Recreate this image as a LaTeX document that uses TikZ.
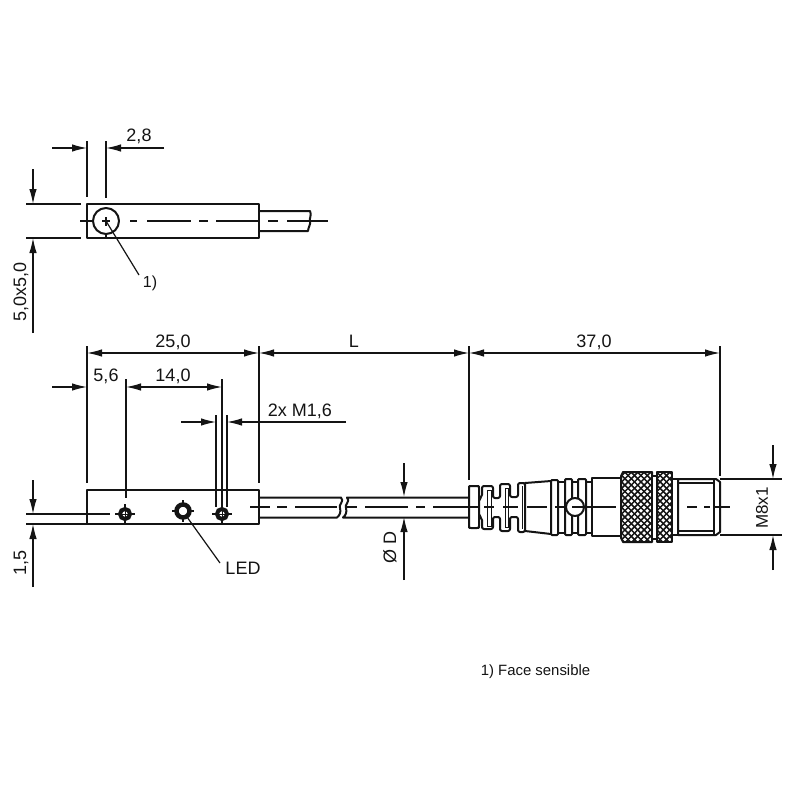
\documentclass[tikz,border=0pt]{standalone}
\usepackage{fontspec}
\setmainfont{Liberation Sans}
\usetikzlibrary{arrows.meta}
\definecolor{ink}{gray}{0.08}
\tikzset{
  part/.style={draw=ink,line width=2pt,line join=round},
  fine/.style={draw=ink,line width=1.2pt},
  hair/.style={draw=ink,line width=.9pt},
  ext/.style={draw=ink,line width=1.4pt},
  knurl/.style={draw=ink,line width=1.5pt},
  tipped/.style={draw=ink,line width=1.3pt,{Latex[length=15pt,width=7.5pt]}-{Latex[length=15pt,width=7.5pt]}},
  dimline/.style={draw=ink,line width=1.3pt,-{Latex[length=15pt,width=7.5pt]}},
  lbl/.style={text=ink,font=\fontsize{18}{20}\selectfont,inner sep=0pt},
  note/.style={text=ink,font=\fontsize{14.9}{17}\selectfont,inner sep=0pt},
}
\begin{document}
\begin{tikzpicture}[x=1pt,y=-1pt]
\useasboundingbox (0,0) rectangle (800,800);
\fill[white] (0,0) rectangle (800,800);

% ===== Top view =====
\coordinate (lensC) at (106,221);
\coordinate (lensLead) at (139,275);
\foreach \a/\b in {259/259,268/278,287/328}
  \draw[fine] (\a,221) -- (\b,221);
\draw[part] (259,211) -- (310,211) .. controls (312,215) and (309,219) .. (310,221) .. controls (311,224) and (308,228) .. (308,231) -- (259,231);
\draw[part] (87,204) rectangle (259,238);
\foreach \a/\b in {80/93,102/110,130/137,147/191,199/208,216/259}
  \draw[fine] (\a,221) -- (\b,221);
\draw[part] (lensC) circle (13);
\draw[ext] (106,141) -- (106,198);
\draw[fine] (106,217) -- (106,226);
\draw[fine] (106,235) -- (106,238);
\draw[fine] (lensC) -- (lensLead);
\node[lbl] (oneA) at (150,283) {\fontsize{16}{18}\selectfont 1)};

\draw[ext] (87,141) -- (87,197);
\coordinate (a1) at (52,148); \coordinate (a2) at (87,148);
\coordinate (a3) at (164,148); \coordinate (a4) at (106,148);
\draw[dimline] (a1) -- (a2);
\draw[dimline] (a3) -- (a4);
\node[lbl] (d28) at (139,136) {2,8};

\draw[ext] (26,204) -- (81,204);
\draw[ext] (26,238) -- (81,238);
\coordinate (b1) at (33,169); \coordinate (b2) at (33,204);
\coordinate (b3) at (33,333); \coordinate (b4) at (33,238);
\draw[dimline] (b1) -- (b2);
\draw[dimline] (b3) -- (b4);
\node[lbl,rotate=90] (d50) at (21,292) {5,0x5,0};

% ===== Side view: sensor =====
\foreach \a/\b in {250/270,277/287,295/337,347/357,365/408,416/425,433/478}
  \draw[fine] (\a,507) -- (\b,507);
\draw[part] (259,497.5) -- (341,497.5) .. controls (345,501) and (338,505) .. (340,508) .. controls (341,512) and (340,515) .. (337,517.5) -- (259,517.5);
\draw[part] (469,497.5) -- (347,497.5) .. controls (351,501) and (344,505) .. (346,508) .. controls (347,512) and (346,515) .. (343,517.5) -- (469,517.5);
\draw[part] (87,490) rectangle (259,524);
\draw[fine] (250,507) -- (259,507);

\coordinate (h1) at (125,514);
\coordinate (led) at (183,511);
\coordinate (h2) at (222,514);
\coordinate (ledLead) at (220,563);
\foreach \c in {h1,h2}{
  \draw[fine] ([xshift=-10pt]\c) -- ([xshift=10pt]\c);
  \draw[fine] ([yshift=-10pt]\c) -- ([yshift=10pt]\c);
  \draw[draw=ink,line width=4pt,fill=white] (\c) circle (5);
  \draw[draw=ink,line width=.6pt] ([xshift=-3pt]\c) -- ([xshift=3pt]\c);
  \draw[draw=ink,line width=.6pt] ([yshift=-3pt]\c) -- ([yshift=3pt]\c);
}
\draw[fine] ([xshift=-11pt]led) -- ([xshift=11pt]led);
\draw[fine] ([yshift=-11pt]led) -- ([yshift=11pt]led);
\draw[draw=ink,line width=4.5pt,fill=white] (led) circle (6.5);
\draw[fine] (187,517) -- (ledLead);
\node[lbl] (ledT) at (243,568) {LED};

% Extension lines, side view
\draw[ext] (87,346) -- (87,483);
\draw[ext] (259,346) -- (259,483);
\draw[ext] (469,346) -- (469,480);
\draw[ext] (720,346) -- (720,476);
\draw[fine] (126,379) -- (126,498);
\draw[fine] (222,379) -- (222,510);
\draw[ext] (216,415) -- (216,507);
\draw[ext] (227,415) -- (227,507);
\draw[ext] (26,514) -- (110,514);
\draw[ext] (26,524) -- (87,524);

% Dimensions
\coordinate (l0) at (87,353); \coordinate (l1) at (259,353);
\coordinate (l2) at (469,353); \coordinate (l3) at (720,353);
\draw[tipped] (l0) -- (l1);
\draw[tipped] (l1) -- (l2);
\draw[tipped] (l2) -- (l3);
\node[lbl] (d25) at (173,342) {25,0};
\node[lbl] (dL) at (354,341) {L};
\node[lbl] (d37) at (594,342) {37,0};

\coordinate (m0) at (52,387); \coordinate (m1) at (87,387);
\coordinate (m2) at (126,387); \coordinate (m3) at (222,387);
\draw[dimline] (m0) -- (m1);
\draw[tipped] (m2) -- (m3);
\node[lbl] (d56) at (106,376) {5,6};
\node[lbl] (d14) at (173,376) {14,0};

\coordinate (n0) at (181,422); \coordinate (n1) at (216,422);
\coordinate (n2) at (346,422); \coordinate (n3) at (227,422);
\draw[dimline] (n0) -- (n1);
\draw[dimline] (n2) -- (n3);
\node[lbl] (dM) at (300,411) {2x M1,6};

\coordinate (p1) at (33,480); \coordinate (p2) at (33,514);
\coordinate (p3) at (33,587); \coordinate (p4) at (33,524);
\draw[dimline] (p1) -- (p2);
\draw[dimline] (p3) -- (p4);
\node[lbl,rotate=90] (d15) at (21,563) {1,5};

\coordinate (q1) at (404,463); \coordinate (q2) at (404,497);
\coordinate (q3) at (404,580); \coordinate (q4) at (404,517);
\draw[dimline] (q1) -- (q2);
\draw[dimline] (q3) -- (q4);
\node[lbl,rotate=90] (dD) at (390,547) {Ø D};

% ===== Connector =====
\draw[part,fill=white] (469,488) .. controls (469,486) .. (471,486) -- (477,486) .. controls (479,486) .. (479,488) -- (479,526) .. controls (479,528) .. (477,528) -- (471,528) .. controls (469,528) .. (469,526) -- cycle;
% boot ribs
\draw[part,fill=white,rounded corners=2pt]
  (479,499) -- (482,497) -- (482,486) -- (493,486) -- (493,498) -- (500,498) -- (500,484) -- (510,484) -- (510,497) -- (518,497) -- (518,483) -- (525,483)
  -- (525,532) -- (518,532) -- (518,517) -- (510,517) -- (510,531) -- (500,531) -- (500,517) -- (493,517) -- (493,529) -- (482,529) -- (482,518) -- (479,516) -- cycle;
\draw[hair] (487,490) rectangle (491,526);
\draw[hair] (505,488) rectangle (508,527);
\draw[hair] (522,486) -- (522,529);
\draw[hair] (524,484) -- (524,531);
% cone
\draw[part,fill=white] (525,483) -- (551,481) -- (551,534) -- (525,531) -- cycle;
% bands
\draw[part,fill=white] (551,482) rectangle (592,533);
\draw[part,fill=white,rounded corners=1pt] (551,480) rectangle (558,535);
\draw[part,fill=white,rounded corners=1pt] (565,479) rectangle (572,535);
\draw[part,fill=white,rounded corners=1pt] (578,479) rectangle (586,535);
\draw[part,fill=white] (592,478) rectangle (621,536);
% centre line through connector
\foreach \a/\b in {469/478,484/494,503/518,527/547,555/565,572/616}
  \draw[fine] (\a,507) -- (\b,507);
\coordinate (peg) at (575,507);
\draw[part,fill=white] (peg) circle (9);
\draw[fine] (572,507) -- (584,507);
% knurled nut 1
\begin{scope}
  \path[clip] (621,476) -- (623,472) -- (652,472) -- (652,542) -- (623,542) -- (621,538) -- cycle;
  \fill[white] (615,465) rectangle (680,550);
  \foreach \k in {-4,...,40}{
    \draw[knurl] (\k*6.4+560,465) -- (\k*6.4+645,550);
    \draw[knurl] (\k*6.4+560,550) -- (\k*6.4+645,465);
  }
\end{scope}
\draw[part] (621,476) -- (623,472) -- (652,472) -- (652,542) -- (623,542) -- (621,538) -- cycle;
\draw[part,fill=white] (652,476) rectangle (657,539);
% knurled nut 2
\begin{scope}
  \path[clip] (657,472) rectangle (672,542);
  \fill[white] (650,465) rectangle (680,550);
  \foreach \k in {-4,...,40}{
    \draw[knurl] (\k*6.4+560,465) -- (\k*6.4+645,550);
    \draw[knurl] (\k*6.4+560,550) -- (\k*6.4+645,465);
  }
\end{scope}
\draw[part] (657,472) rectangle (672,542);
\draw[part,fill=white] (672,479) rectangle (678,535);
% threaded end
\draw[part] (678,479) -- (716,479) -- (720,482) -- (720,532) -- (716,535) -- (678,535) -- cycle;
\draw[draw=ink,line width=2.6pt] (678,479) -- (678,535);
\draw[fine] (678,483) -- (714,483) (678,531) -- (714,531);
\draw[draw=ink,line width=2.6pt] (714,480) -- (714,534);
\foreach \a/\b in {687/697,704/710,715/730}
  \draw[fine] (\a,507) -- (\b,507);

% M8x1
\draw[ext] (720,479) -- (782,479);
\draw[ext] (720,535) -- (782,535);
\coordinate (r1) at (773,445); \coordinate (r2) at (773,479);
\coordinate (r3) at (773,570); \coordinate (r4) at (773,535);
\draw[dimline] (r1) -- (r2);
\draw[dimline] (r3) -- (r4);
\node[lbl,rotate=90] (dM8) at (762,508) {\fontsize{17}{19}\selectfont M8x1};

\node[note] (foot) at (535.5,672) {1) Face sensible};
\end{tikzpicture}
\end{document}
